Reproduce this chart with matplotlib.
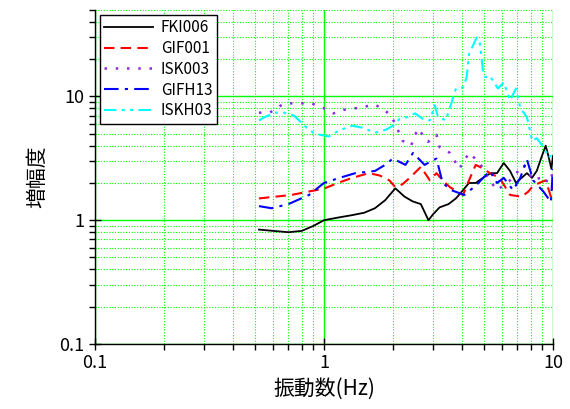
import matplotlib
matplotlib.use("Agg")
import matplotlib.pyplot as plt
from matplotlib.ticker import FixedLocator, FixedFormatter, LogLocator, NullFormatter

plt.rcParams['font.family'] = ['Noto Sans CJK JP', 'DejaVu Sans']

# ---- data ----
fki006_f = [0.52, 0.60, 0.70, 0.80, 0.90, 1.0, 1.15, 1.33, 1.5, 1.67, 1.85, 2.05, 2.25, 2.44, 2.65, 2.86, 3.0, 3.2, 3.5, 3.77, 4.05, 4.3, 4.6, 4.95, 5.35, 5.7, 6.1, 6.5, 6.9, 7.3, 7.7, 8.1, 8.5, 8.9, 9.3, 9.6, 9.85, 10.0]
fki006_v = [0.84, 0.82, 0.80, 0.82, 0.90, 1.0, 1.05, 1.10, 1.15, 1.25, 1.45, 1.81, 1.55, 1.42, 1.35, 1.0, 1.12, 1.27, 1.35, 1.5, 1.75, 2.0, 2.0, 2.2, 2.4, 2.4, 2.9, 2.5, 2.0, 2.2, 2.4, 2.2, 2.5, 3.2, 4.0, 3.2, 2.6, 3.3]

gif001_f = [0.52, 0.72, 0.85, 1.0, 1.15, 1.33, 1.57, 1.75, 1.93, 2.05, 2.2, 2.37, 2.65, 2.9, 3.1, 3.3, 3.55, 4.05, 4.3, 4.6, 5.0, 5.3, 5.85, 6.5, 7.3, 7.8, 8.2, 8.7, 9.3, 9.8, 10.0]
gif001_v = [1.5, 1.6, 1.7, 1.8, 2.0, 2.2, 2.4, 2.3, 2.1, 1.85, 1.95, 2.2, 2.7, 2.1, 2.4, 2.1, 1.85, 1.6, 2.1, 2.8, 2.6, 2.4, 2.2, 1.6, 1.55, 1.7, 1.9, 2.0, 2.1, 1.55, 1.9]

isk003_f = [0.52, 0.58, 0.67, 0.80, 0.88, 0.96, 1.05, 1.10, 1.22, 1.42, 1.67, 1.83, 1.95, 2.05, 2.2, 2.4, 2.57, 2.7, 2.85, 3.1, 3.2, 3.55, 3.9, 4.3, 4.8, 5.2, 5.7, 6.5, 7.45, 8.2, 8.8, 9.3, 9.8, 10.0]
isk003_v = [7.4, 7.4, 8.8, 8.8, 8.8, 8.3, 7.7, 7.3, 7.8, 8.1, 8.6, 7.8, 7.1, 6.0, 4.4, 4.0, 5.5, 4.9, 4.3, 4.9, 3.9, 3.5, 2.6, 3.5, 2.9, 2.2, 1.75, 2.1, 2.8, 2.1, 2.2, 2.0, 2.4, 2.2]

gifh13_f = [0.52, 0.59, 0.70, 0.86, 1.0, 1.17, 1.37, 1.67, 1.85, 2.0, 2.27, 2.45, 2.75, 3.0, 3.1, 3.3, 3.6, 4.1, 4.6, 5.3, 5.7, 6.1, 6.7, 7.2, 7.7, 8.2, 9.1, 9.8, 10.0]
gifh13_v = [1.3, 1.25, 1.35, 1.6, 2.0, 2.2, 2.4, 2.5, 2.8, 3.15, 2.8, 3.5, 2.8, 3.05, 3.15, 2.0, 1.75, 1.6, 1.9, 2.5, 2.0, 2.2, 1.75, 2.2, 3.1, 2.1, 1.7, 1.4, 2.6]

iskh03_f = [0.52, 0.55, 0.61, 0.67, 0.74, 0.84, 0.91, 1.05, 1.16, 1.33, 1.47, 1.67, 1.87, 2.0, 2.14, 2.3, 2.5, 2.7, 2.9, 3.05, 3.15, 3.3, 3.4, 3.6, 3.77, 4.05, 4.2, 4.3, 4.65, 4.8, 4.95, 5.05, 5.3, 5.75, 6.1, 6.5, 6.9, 7.2, 7.7, 8.0, 8.1, 8.5, 9.1, 9.6, 10.0]
iskh03_v = [6.4, 6.8, 7.4, 7.4, 7.0, 5.6, 5.0, 4.75, 5.3, 5.8, 5.6, 5.1, 5.4, 5.8, 6.6, 6.8, 7.3, 6.6, 6.4, 8.5, 6.8, 6.6, 6.4, 8.8, 11.6, 11.8, 14.3, 22.0, 30.0, 26.7, 16.0, 14.3, 14.7, 11.6, 13.0, 9.3, 11.6, 8.1, 6.8, 5.0, 4.4, 4.6, 3.9, 3.2, 3.5]

series_names = ['FKI006', 'GIF001', 'ISK003', 'GIFH13', 'ISKH03']
tick_values = [0.1, 1, 10]
tick_labels = ['0.1', '1', '10']

# ---- plot ----
fig = plt.figure(figsize=(5.70, 4.09), dpi=100)
ax = fig.add_axes([0.1667, 0.159, 0.8033, 0.8166])
ax.set_xscale('log')
ax.set_yscale('log')

ax.plot(fki006_f, fki006_v, color='black', lw=1.3, ls='-', label=series_names[0])
ax.plot(gif001_f, gif001_v, color='red', lw=1.5, ls=(0, (5, 3)), label=series_names[1])
ax.plot(isk003_f, isk003_v, color='#8a2be2', lw=1.8, ls=(0, (1, 3.5)), label=series_names[2])
ax.plot(gifh13_f, gifh13_v, color='blue', lw=1.5, ls=(0, (7, 3, 1.5, 3)), label=series_names[3])
ax.plot(iskh03_f, iskh03_v, color='cyan', lw=1.5, ls=(0, (6, 2.5, 1.5, 2.5, 1.5, 2.5)), label=series_names[4])

ax.set_xlim(0.1, 10)
ax.set_ylim(0.1, 50)

ax.xaxis.set_major_locator(FixedLocator(tick_values))
ax.xaxis.set_major_formatter(FixedFormatter(tick_labels))
ax.yaxis.set_major_locator(FixedLocator(tick_values))
ax.yaxis.set_major_formatter(FixedFormatter(tick_labels))
ax.xaxis.set_minor_locator(LogLocator(base=10, subs=range(2, 10)))
ax.yaxis.set_minor_locator(LogLocator(base=10, subs=range(2, 10)))
ax.xaxis.set_minor_formatter(NullFormatter())
ax.yaxis.set_minor_formatter(NullFormatter())

ax.grid(True, which='major', color='#00ff00', lw=1.0, ls='-')
ax.grid(True, which='minor', color='#00ff00', lw=0.8, ls=(0, (1, 1.5)))
ax.set_axisbelow(True)

for s in ['top', 'right']:
    ax.spines[s].set_visible(False)
for s in ['left', 'bottom']:
    ax.spines[s].set_linewidth(1.0)

ax.tick_params(which='major', direction='inout', length=9, width=1.0, labelsize=13, pad=3)
ax.tick_params(which='minor', direction='out', length=4.5, width=1.0)

ax.set_xlabel('振動数(Hz)', fontsize=15, labelpad=4)
ax.set_ylabel('増幅度', fontsize=15, labelpad=8)

leg = ax.legend(loc='upper left', fontsize=11, frameon=True, fancybox=False,
                edgecolor='black', framealpha=1, borderaxespad=0.3,
                handlelength=3.2, labelspacing=0.25, borderpad=0.3, handletextpad=0.5)
leg.get_frame().set_linewidth(1.0)

fig.savefig('out.png', dpi=100)
